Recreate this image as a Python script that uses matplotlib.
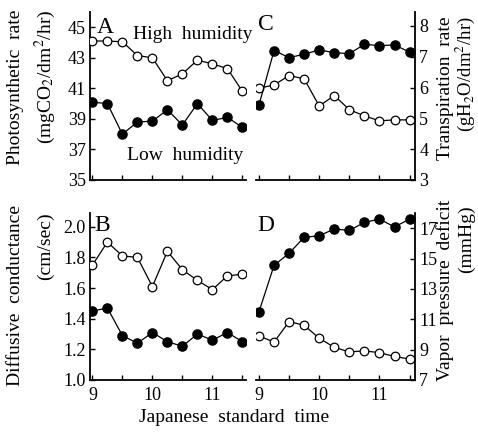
import matplotlib
matplotlib.use("Agg")
import matplotlib.pyplot as plt
from matplotlib.ticker import FixedLocator, FormatStrFormatter

plt.rcParams["font.family"] = ["Liberation Serif", "DejaVu Serif"]
plt.rcParams["mathtext.fontset"] = "stix"

# time of day, hours (9:00 to 11:30, every 15 min)
times = [9.0, 9.25, 9.5, 9.75, 10.0, 10.25, 10.5, 10.75, 11.0, 11.25, 11.5]

# A: photosynthetic rate (mgCO2/dm2/hr)
photo_high = [44.1, 44.1, 44.05, 43.15, 43.0, 41.5, 41.95, 42.85, 42.6, 42.3, 40.8]
photo_low = [40.1, 40.0, 38.0, 38.8, 38.85, 39.6, 38.6, 40.0, 38.9, 39.1, 38.45]

# B: diffusive conductance (cm/sec)
cond_high = [1.75, 1.90, 1.81, 1.80, 1.61, 1.84, 1.72, 1.65, 1.59, 1.68, 1.69]
cond_low = [1.45, 1.47, 1.29, 1.24, 1.31, 1.25, 1.22, 1.30, 1.26, 1.31, 1.25]

# C: transpiration rate (gH2O/dm2/hr)
trans_high = [5.98, 6.08, 6.39, 6.28, 5.40, 5.74, 5.28, 5.08, 4.92, 4.95, 4.95]
trans_low = [5.44, 7.20, 6.97, 7.08, 7.22, 7.13, 7.10, 7.40, 7.36, 7.38, 7.15]

# D: vapor pressure deficit (mmHg)
vpd_high = [9.9, 9.5, 10.85, 10.6, 9.75, 9.15, 8.85, 8.92, 8.8, 8.55, 8.38]
vpd_low = [11.5, 14.55, 15.35, 16.4, 16.5, 16.95, 16.85, 17.38, 17.6, 17.08, 17.6]

ticks_A = [35, 37, 39, 41, 43, 45]
ticks_B = [1.0, 1.2, 1.4, 1.6, 1.8, 2.0]
ticks_C = [3, 4, 5, 6, 7, 8]
ticks_D = [7, 9, 11, 13, 15, 17]

W, H = 478, 434
fig = plt.figure(figsize=(W / 100, H / 100), dpi=100)


def px_axes(left, top, right, bottom):
    return fig.add_axes([left / W, 1 - bottom / H, (right - left) / W, (bottom - top) / H])


def series(ax, y_high, y_low):
    ax.plot(times, y_high, "-", color="black", lw=0.9, marker="o", ms=6.2,
            mfc="white", mec="black", mew=0.9, zorder=3)
    ax.plot(times, y_low, "-", color="black", lw=0.9, marker="o", ms=6.6,
            mfc="black", mec="black", zorder=3)


def style(ax, side, show_x, yticks):
    for s in ["top", "right", "left", "bottom"]:
        ax.spines[s].set_visible(False)
    ax.spines["bottom"].set_visible(True)
    ax.spines[side].set_visible(True)
    for s in ax.spines.values():
        s.set_linewidth(1.3)
    if side == "right":
        ax.yaxis.tick_right()
    ax.yaxis.set_major_locator(FixedLocator(yticks))
    ax.xaxis.set_major_locator(FixedLocator([9, 10, 11]))
    ax.xaxis.set_minor_locator(FixedLocator([9.5, 10.5, 11.5]))
    ax.tick_params(axis="both", which="both", direction="in", length=3.5,
                   width=1.0, labelsize=13)
    ax.tick_params(axis="y", pad=3)
    ax.tick_params(axis="x", pad=5)
    if not show_x:
        ax.tick_params(axis="x", labelbottom=False)
    else:
        ax.set_xticklabels(["9", "10", "11"])


axA = px_axes(90, 12, 246, 180)
series(axA, photo_high, photo_low)
axA.set_xlim(8.96, 11.56)
axA.set_ylim(35, 46)
style(axA, "left", False, ticks_A)
axA.text(9.07, 45.7, "A", fontsize=17, va="top")
axA.text(9.68, 44.5, "High  humidity", fontsize=14, va="center")
axA.text(9.58, 36.6, "Low  humidity", fontsize=14, va="center")

axC = px_axes(256, 12, 415, 180)
series(axC, trans_high, trans_low)
axC.set_xlim(8.95, 11.59)
axC.set_ylim(3, 8.45)
style(axC, "right", False, ticks_C)
axC.text(8.98, 8.4, "C", fontsize=17, va="top")

axB = px_axes(90, 213, 246, 380)
series(axB, cond_high, cond_low)
axB.set_xlim(8.96, 11.56)
axB.set_ylim(1.0, 2.09)
style(axB, "left", True, ticks_B)
axB.yaxis.set_major_formatter(FormatStrFormatter("%.1f"))
axB.text(9.03, 2.08, "B", fontsize=17, va="top")

axD = px_axes(256, 213, 415, 380)
series(axD, vpd_high, vpd_low)
axD.set_xlim(8.95, 11.59)
axD.set_ylim(7, 18.0)
style(axD, "right", True, ticks_D)
axD.text(8.98, 17.9, "D", fontsize=17, va="top")

# axis titles
lab = dict(rotation=90, fontsize=14, ha="center", va="top")
fig.text(16 / W, 1 - 10 / H, "Photosynthetic  rate", **lab)
fig.text(45 / W, 1 - 10 / H, r"(mgCO$_2$/dm$^2$/hr)", **lab)
fig.text(445 / W, 1 - 16 / H, "Transpiration  rate", **lab)
fig.text(465 / W, 1 - 16 / H, r"(gH$_2$O/dm$^2$/hr)", rotation=90,
         fontsize=13.5, ha="center", va="top")
fig.text(16 / W, 1 - 205 / H, "Diffusive  conductance", **lab)
fig.text(45 / W, 1 - 212 / H, "(cm/sec)", **lab)
fig.text(445 / W, 1 - 200 / H, "Vapor  pressure  deficit", **lab)
fig.text(466 / W, 1 - 205 / H, "(mmHg)", **lab)
fig.text(234 / W, 1 - 418 / H, "Japanese  standard  time", fontsize=14,
         ha="center", va="center")

fig.savefig("out.png", dpi=100)
